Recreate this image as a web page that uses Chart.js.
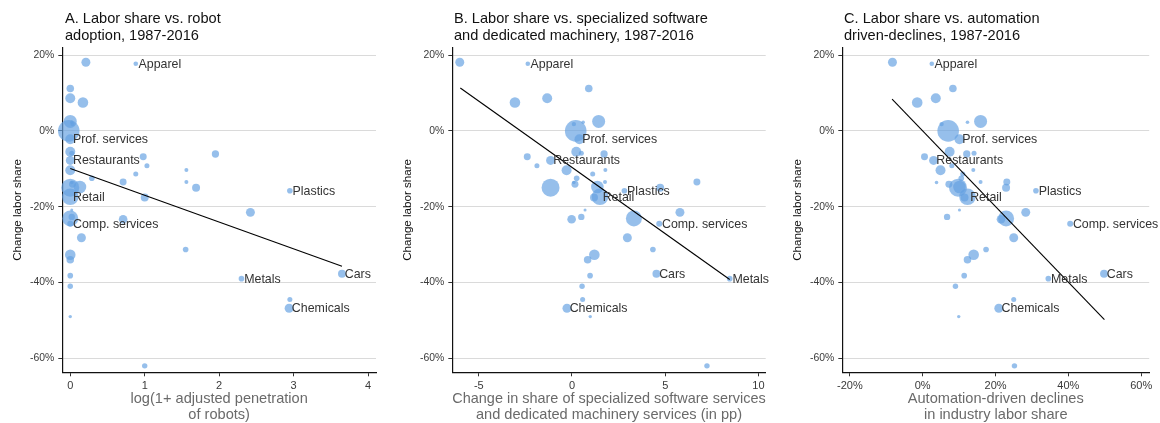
<!DOCTYPE html>
<html>
<head>
<meta charset="utf-8">
<script src="https://cdn.jsdelivr.net/npm/chart.js@4.4.1/dist/chart.umd.min.js"></script>
<style>
  body { margin: 0; background: #fff; width: 1160px; height: 423px; overflow: hidden; position: relative;
         font-family: 'Liberation Sans', Arial, sans-serif; }
  .panel { position: absolute; top: 0; height: 423px; overflow: hidden; }
  .panel canvas { position: absolute; left: 0; top: 0; }
  .ttl { position: absolute; top: 10px; font-size: 14.6px; line-height: 16.5px; color: #111; white-space: nowrap; }
</style>
</head>
<body>
<div class="panel" style="left:0;width:390px"><canvas id="robots" width="390" height="440"></canvas></div>
<div class="panel" style="left:390px;width:390px"><canvas id="software" width="390" height="440"></canvas></div>
<div class="panel" style="left:780px;width:380px"><canvas id="automation" width="380" height="440"></canvas></div>
<div class="ttl" style="left:65px">A. Labor share vs. robot<br>adoption, 1987-2016</div>
<div class="ttl" style="left:454px">B. Labor share vs. specialized software<br>and dedicated machinery, 1987-2016</div>
<div class="ttl" style="left:844px">C. Labor share vs. automation<br>driven-declines, 1987-2016</div>
<script>
// One entry per industry; only a handful carry a printed name.
const industryLabels = [
  '', 'Apparel', '', '', '', '', '', '', '', 'Prof. services',
  '', '', '', '', 'Restaurants', '', '', '', '', '',
  '', '', '', '', '', '', '', 'Plastics', 'Retail', '',
  '', '', '', '', '', 'Comp. services', '', '', '', '',
  'Cars', '', 'Metals', '', '', 'Chemicals', '', ''
];
// Change in industry labor share, 1987-2016 (%)
const laborShareChange = [
  18.1, 17.7, 11.2, 8.6, 7.5, 2.5, 2.3, 1.8, 0.0, -2.2,
  -5.5, -6.1, -5.9, -6.8, -7.8, -9.2, -10.4, -10.3, -11.4, -12.5,
  -13.5, -13.5, -13.6, -14.1, -15.0, -14.8, -15.0, -15.8, -17.4, -17.6,
  -20.9, -21.5, -23.1, -23.3, -22.7, -24.5, -28.2, -31.3, -32.7, -34.0,
  -37.7, -38.2, -39.0, -41.0, -44.5, -46.8, -49.0, -62.0
];
// log(1 + adjusted penetration of robots)
const robotPenetration = [
  0.21, 0.88, 0, 0, 0.17, 0, 0.02, 0.03, -0.02, 0,
  0, 1.95, 0.02, 0.98, 0, 1.03, 0, 1.56, 0.88, 0.29,
  0.71, 1.56, 0.02, 0.03, 0, 0.13, 1.69, 2.95, 0, 1.0,
  0.02, 2.42, 0, 0.71, 0.02, 0, 0.15, 1.55, 0, 0,
  3.65, 0, 2.3, 0, 2.95, 2.94, 0, 1.0
];
// Change in share of specialized software and dedicated machinery services (pp)
const softwareShareChange = [
  -6.02, -2.37, 0.9, -1.33, -3.06, 1.43, 0.6, 0.1, 0.2, 0.4,
  0.23, 1.72, 0.5, -2.4, -1.15, -1.88, -0.29, 1.79, 1.11, 0.25,
  6.7, 1.77, 0.1, 0.16, -1.15, 1.36, 4.73, 2.81, 1.5, 1.18,
  0.7, 5.79, 3.32, -0.02, 0.5, 4.68, 2.97, 4.34, 1.2, 0.84,
  4.53, 0.97, 8.46, 0.54, 0.57, -0.27, 0.98, 7.24
];
// Automation-driven declines in industry labor share (%)
const automationDeclines = [
  -8.3, 2.5, 8.3, 3.6, -1.5, 15.9, 12.3, 5.2, 7.0, 10.1,
  7.4, 12.1, 14.1, 0.5, 3.0, 8.0, 4.9, 13.9, 11.0, 10.6,
  23.1, 15.9, 3.8, 7.2, 9.7, 10.1, 22.9, 31.1, 12.3, 11.5,
  10.1, 28.3, 22.9, 21.5, 6.7, 40.5, 25.0, 17.4, 14.0, 12.3,
  49.8, 11.4, 34.5, 9.0, 25.0, 20.9, 9.9, 25.2
];
// Industry employment share (%), shown as bubble area
const employmentShare = [
  3.8, 1.0, 2.7, 4.7, 5.3, 8.0, 0.6, 0.9, 22.0, 4.7,
  4.7, 2.5, 1.2, 2.3, 3.8, 1.2, 4.7, 0.76, 1.2, 1.5,
  2.3, 0.76, 0.6, 2.3, 15.3, 7.5, 3.0, 1.5, 13.0, 3.0,
  0.43, 3.8, 12.1, 3.5, 1.9, 1.7, 3.8, 1.5, 5.3, 2.7,
  3.0, 1.5, 1.5, 1.4, 1.2, 3.8, 0.55, 1.4
];

// Fitted lines (endpoints)
const fitRobotsX = [0, 3.65],        fitRobotsY = [-9.9, -35.7];
const fitSoftwareX = [-5.99, 8.46],  fitSoftwareY = [11.3, -39.2];
const fitAutomationX = [-8.4, 49.9], fitAutomationY = [8.4, -49.8];

// Tick values
const yTicks = [-60, -40, -20, 0, 20];
const robotTicks = [0, 1, 2, 3, 4];
const softwareTicks = [-5, 0, 5, 10];
const automationTicks = [-20, 0, 20, 40, 60];

const FONT = "'Liberation Sans', Arial, sans-serif";
Chart.defaults.font.family = FONT;
Chart.defaults.color = '#3a3a3a';

const pointLabels = {
  id: 'pointLabels',
  afterDatasetsDraw(chart) {
    const meta = chart.getDatasetMeta(0);
    const ctx = chart.ctx;
    ctx.save();
    ctx.font = '12.4px ' + FONT;
    ctx.fillStyle = '#333';
    ctx.textAlign = 'left';
    ctx.textBaseline = 'middle';
    meta.data.forEach((el, i) => {
      const t = industryLabels[i];
      if (t) ctx.fillText(t, el.x + 2.7, el.y + 0.5);
    });
    ctx.restore();
  }
};

function makePanel(id, xValues, xMin, xMax, xTickValues, xFmt, fitX, fitY, xTitle, padRight) {
  const bubbles = xValues.map((x, i) => ({ x, y: laborShareChange[i], r: 2.3 * Math.sqrt(employmentShare[i]) }));
  const fit = fitX.map((x, i) => ({ x, y: fitY[i] }));
  new Chart(document.getElementById(id), {
    type: 'bubble',
    data: {
      datasets: [
        { type: 'bubble', data: bubbles, backgroundColor: 'rgba(100,160,225,0.68)', borderWidth: 0, clip: false, order: 2 },
        { type: 'line', data: fit, borderColor: '#000', borderWidth: 1.1, pointRadius: 0, fill: false, order: 1 }
      ]
    },
    options: {
      responsive: false,
      animation: false,
      events: [],
      layout: { padding: { top: 47.5, right: padRight, bottom: 0, left: 0 } },
      plugins: { legend: { display: false }, tooltip: { enabled: false } },
      scales: {
        x: {
          type: 'linear', min: xMin, max: xMax,
          afterBuildTicks: s => { s.ticks = xTickValues.map(v => ({ value: v })); },
          afterFit: s => { s.height = 67.7; s.paddingLeft = 0; s.paddingRight = 0; },
          grid: { drawOnChartArea: false, drawTicks: true, tickLength: 4, tickColor: '#333' },
          border: { display: true, color: '#111', width: 1.2 },
          ticks: { font: { size: 11 }, color: '#3a3a3a', padding: 3, callback: xFmt, maxRotation: 0, autoSkip: false },
          title: { display: true, text: xTitle, color: '#6a6a6a', font: { size: 14.6, lineHeight: 1.07 }, padding: { top: 0, bottom: 17.2 } }
        },
        y: {
          type: 'linear', min: -63.7, max: 22.0,
          afterBuildTicks: s => { s.ticks = yTicks.map(v => ({ value: v })); },
          afterFit: s => { s.width = 62.3; s.paddingTop = 0; s.paddingBottom = 0; },
          grid: { color: '#dadada', lineWidth: 1, drawTicks: true, tickLength: 4, tickColor: '#333' },
          border: { display: true, color: '#111', width: 1.2 },
          ticks: { font: { size: 10.4 }, color: '#3a3a3a', padding: 4, callback: v => v + '%' },
          title: { display: true, text: 'Change labor share', color: '#111', font: { size: 11.6, lineHeight: 1.2 }, padding: { top: 11, bottom: 0 } }
        }
      }
    },
    plugins: [pointLabels]
  });
}

makePanel('robots', robotPenetration, -0.107, 4.107, robotTicks, v => String(v), fitRobotsX, fitRobotsY,
  ['log(1+ adjusted penetration', 'of robots)'], 14);
makePanel('software', softwareShareChange, -6.42, 10.39, softwareTicks, v => String(v), fitSoftwareX, fitSoftwareY,
  ['Change in share of specialized software services', 'and dedicated machinery services (in pp)'], 14.3);
makePanel('automation', automationDeclines, -22.07, 62.2, automationTicks, v => v + '%', fitAutomationX, fitAutomationY,
  ['Automation-driven declines', 'in industry labor share'], 4.3);
</script>
</body>
</html>
